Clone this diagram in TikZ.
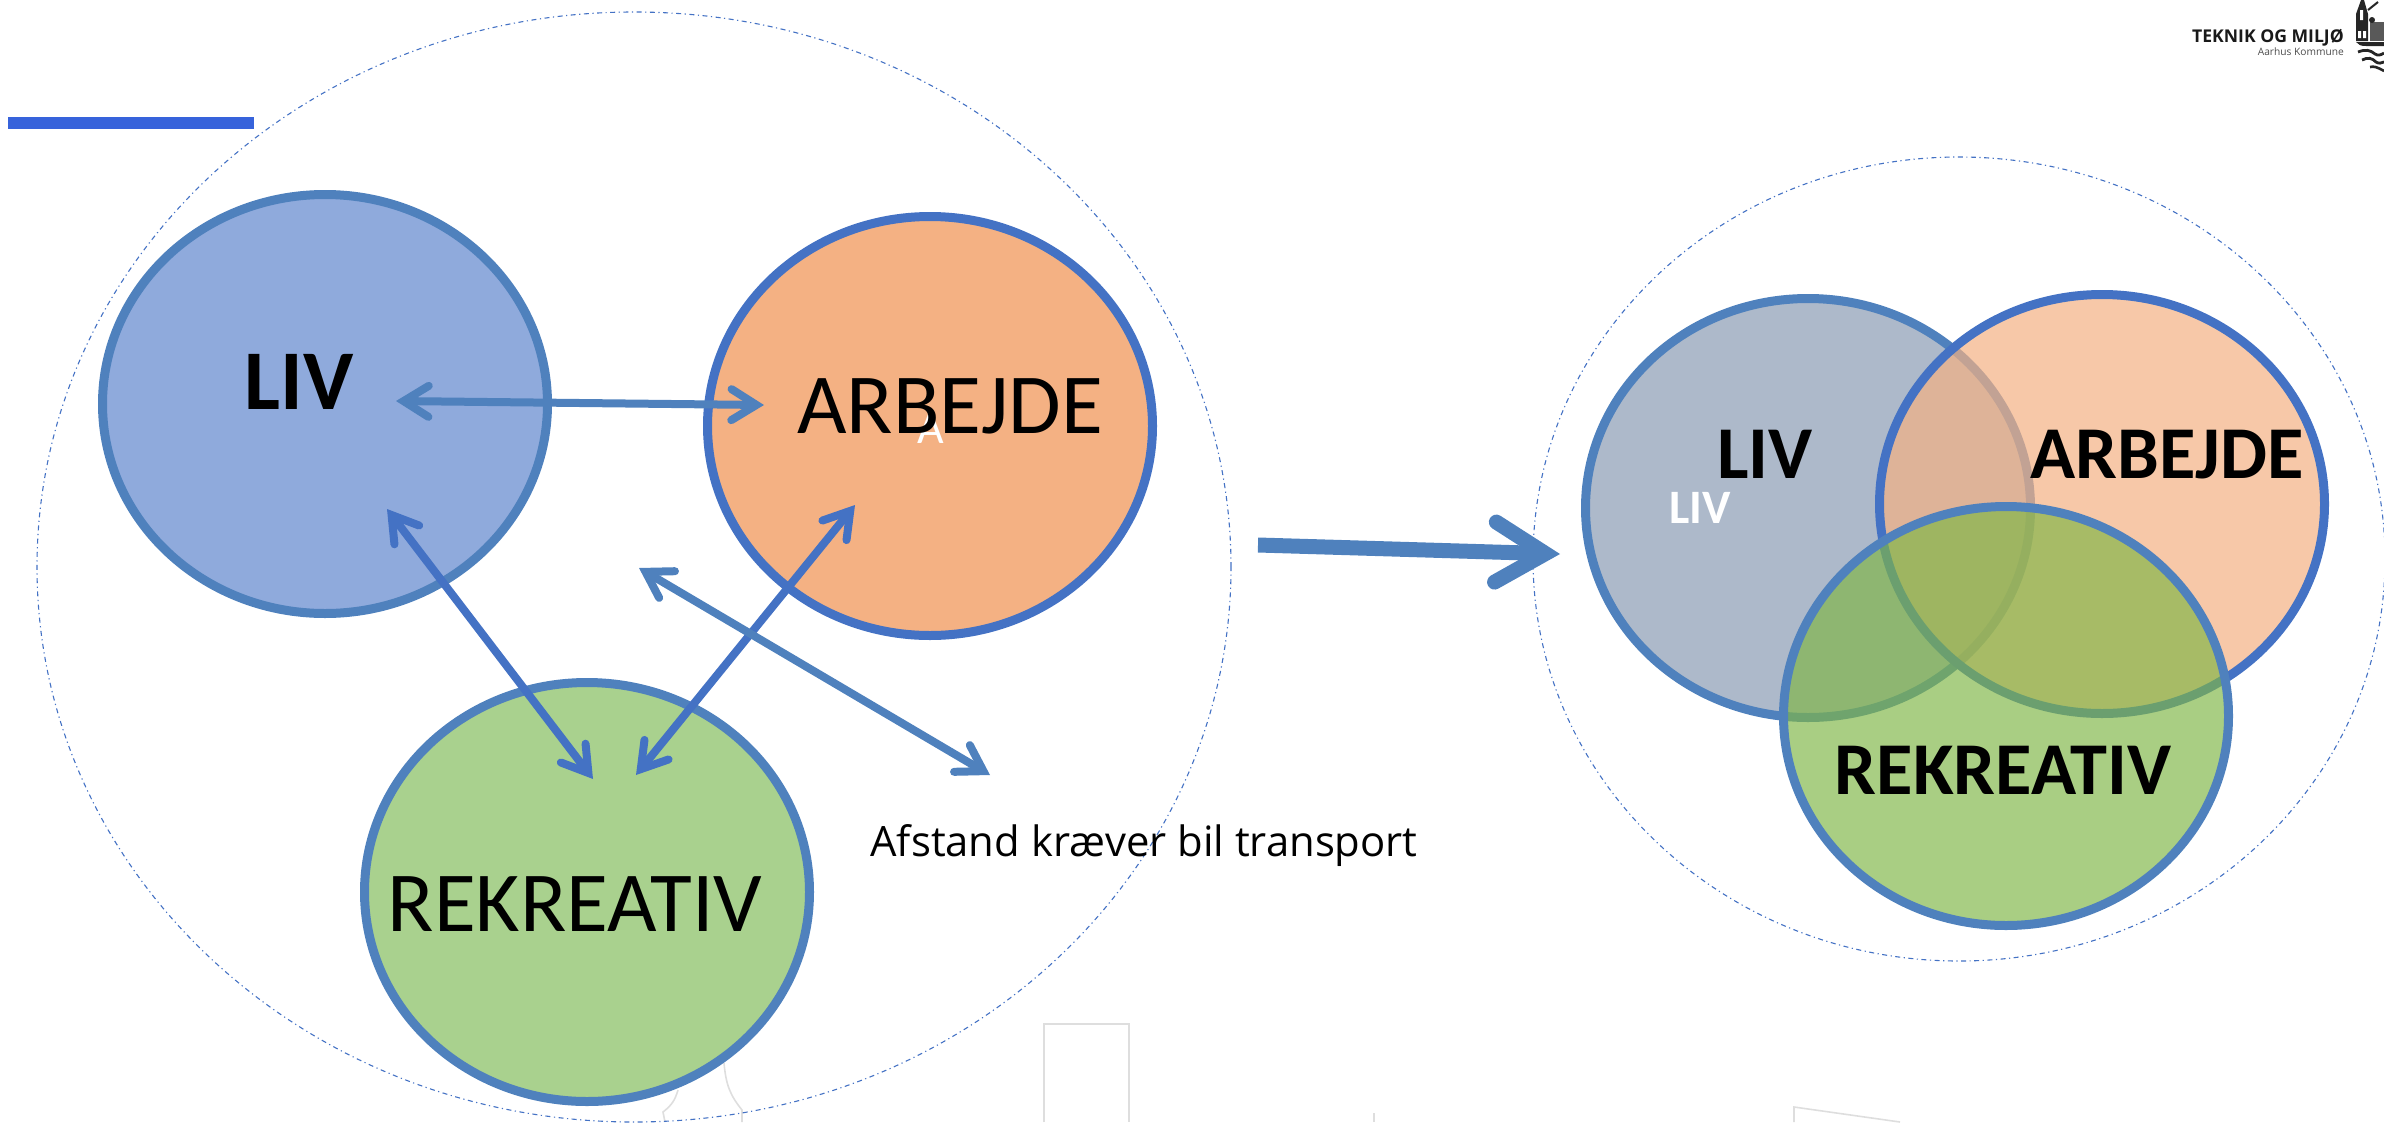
\documentclass[tikz,border=0pt]{standalone}
\usepackage{fontspec}
\setmainfont{Carlito}
\newfontfamily\afst{Open Sans}
\usetikzlibrary{arrows.meta,shapes.geometric}
\definecolor{strokeA}{HTML}{4F81BD}
\definecolor{strokeB}{HTML}{4472C4}
\definecolor{fillLiv}{HTML}{8FAADC}
\definecolor{fillArb}{HTML}{F4B183}
\definecolor{fillRek}{HTML}{A9D18E}
\definecolor{fillLivB}{HTML}{ADB9CA}
\definecolor{fillArbB}{HTML}{F4B183}
\definecolor{fillRekB}{HTML}{7FB646}
\definecolor{barblue}{HTML}{3763DB}
\definecolor{sketchgrey}{HTML}{DEDEDE}
\tikzset{
  x=1pt,y=-1pt,
  blob/.style={ellipse,inner sep=0pt,line width=9pt,minimum width=445pt,minimum height=419pt},
  halo/.style={ellipse,inner sep=0pt,draw=strokeB,line width=1.1pt,dash pattern=on 5pt off 3.5pt on 1.2pt off 3.5pt},
  lbl/.style={inner sep=0pt,anchor=base,text=black},
  big/.style={lbl,font=\fontsize{85.5}{85}\selectfont},
  bigb/.style={lbl,font=\fontsize{85}{85}\selectfont\bfseries},
  venn/.style={lbl,font=\fontsize{74.5}{74}\selectfont\bfseries},
  biarrow/.style={line width=8pt,
    {Straight Barb[length=25pt,width=31pt,line width=0pt 1,line cap=round,line join=miter]}-{Straight Barb[length=25pt,width=31pt,line width=0pt 1,line cap=round,line join=miter]}},
  sketch/.style={draw=sketchgrey,line width=1.6pt},
}
\begin{document}
\begin{tikzpicture}
\useasboundingbox (0,0) rectangle (2384,1122);
% faint background sketches
\draw[sketch] (678,1090) .. controls (675,1100) and (672,1105) .. (663,1112) -- (665,1122);
\draw[sketch] (724,1063) .. controls (726,1085) and (730,1095) .. (742,1110) -- (742,1122);
\draw[sketch] (1044,1122) -- (1044,1024) -- (1129,1024) -- (1129,1122);
\draw[sketch] (1374,1113) -- (1374,1122);
\draw[sketch] (1794,1122) -- (1794,1107) -- (1900,1122);
% halos
\node[halo,minimum width=1194pt,minimum height=1110pt] (haloL) at (634,567) {};
\node[halo,minimum width=852pt,minimum height=804pt] (haloR) at (1959,559) {};
% bar
\fill[barblue] (8,117) rectangle (254,129);
% left blobs
\node[blob,draw=strokeA,fill=fillLiv] (liv) at (325,404) {};
\node[blob,draw=strokeB,fill=fillArb] (arb) at (930,426) {};
\node[blob,draw=strokeA,fill=fillRek] (rek) at (587,892) {};
\node[bigb] (livT) at (299,409) {LIV};
\node[lbl,text=white,font=\fontsize{46}{46}\selectfont] (aT) at (931,443) {A};
\node[big] (arbT) at (950,433) {ARBEJDE};
\node[big] (rekT) at (575,931) {REKREATIV};
\node[lbl,font=\afst\fontsize{41.8}{42}\selectfont] (afT) at (1144,856) {Afstand kræver bil transport};
% arrow ends
\coordinate (a1) at (396,401);
\coordinate (a2) at (764,405);
\coordinate (b1) at (387,509);
\coordinate (b2) at (593,779);
\coordinate (c1) at (855,505);
\coordinate (c2) at (636,775);
\coordinate (d1) at (639,568);
\coordinate (d2) at (990,775);
\coordinate (e1) at (1258,545);
\coordinate (e2) at (1560,554);
\draw[biarrow,draw=strokeA] (a1) -- (a2);
\draw[biarrow,draw=strokeB] (b1) -- (b2);
\draw[biarrow,draw=strokeB] (c1) -- (c2);
\draw[biarrow,draw=strokeA] (d1) -- (d2);
\draw[line width=15pt,draw=strokeA,-{Straight Barb[length=50pt,width=60pt,line width=0pt 1,line cap=round,line join=miter]}] (e1) -- (e2);
% venn
\node[blob,draw=strokeA,fill=fillLivB] (livB) at (1808,508) {};
\node[blob,draw=strokeB,fill=fillArbB,fill opacity=.7] (arbB) at (2102,504) {};
\node[blob,draw=strokeA,fill=fillRekB,fill opacity=.67] (rekB) at (2006,716) {};
\node[venn] (livBT) at (1765,478) {LIV};
\node[lbl,text=white,font=\fontsize{48}{48}\selectfont\bfseries] (livW) at (1700,523) {LIV};
\node[venn] (arbBT) at (2167,478) {ARBEJDE};
\node[venn] (rekBT) at (2003,794) {REKREATIV};
% logo
\node[inner sep=0pt,anchor=base east,text=black!90,font=\afst\bfseries\fontsize{17.6}{18}\selectfont] (lg1) at (2344,42) {TEKNIK OG MILJØ};
\node[inner sep=0pt,anchor=base east,text=black!70,font=\afst\fontsize{10.2}{11}\selectfont] (lg2) at (2344,55) {Aarhus Kommune};
% crest
\fill[black!85] (2356,41) -- (2356,14) -- (2361,0) -- (2364,0) -- (2368,14) -- (2368,41) -- cycle;
\fill[white] (2360,10) rectangle (2363,20) (2358,31) rectangle (2361,38) (2363,31) rectangle (2366,38);
\fill[black!65] (2370,41) rectangle (2384,22);
\fill[black!85] (2372,20) circle (3pt);
\draw[black!85,line width=2pt] (2368,10) -- (2378,2);
\fill[black!85] (2356,42) -- (2384,42) -- (2384,46) -- (2366,46) .. controls (2361,46) and (2358,45) .. (2356,42) -- cycle;
\draw[black!85,line width=2.8pt] (2358,52) .. controls (2366,49) and (2370,50) .. (2375,54) .. controls (2378,56) and (2381,55) .. (2384,53);
\draw[black!85,line width=2.8pt] (2362,60) .. controls (2368,57) and (2372,58) .. (2376,62) .. controls (2379,64) and (2381,63) .. (2384,62);
\draw[black!85,line width=2.6pt] (2370,67) .. controls (2374,66) and (2377,67) .. (2384,71);
\end{tikzpicture}
\end{document}
